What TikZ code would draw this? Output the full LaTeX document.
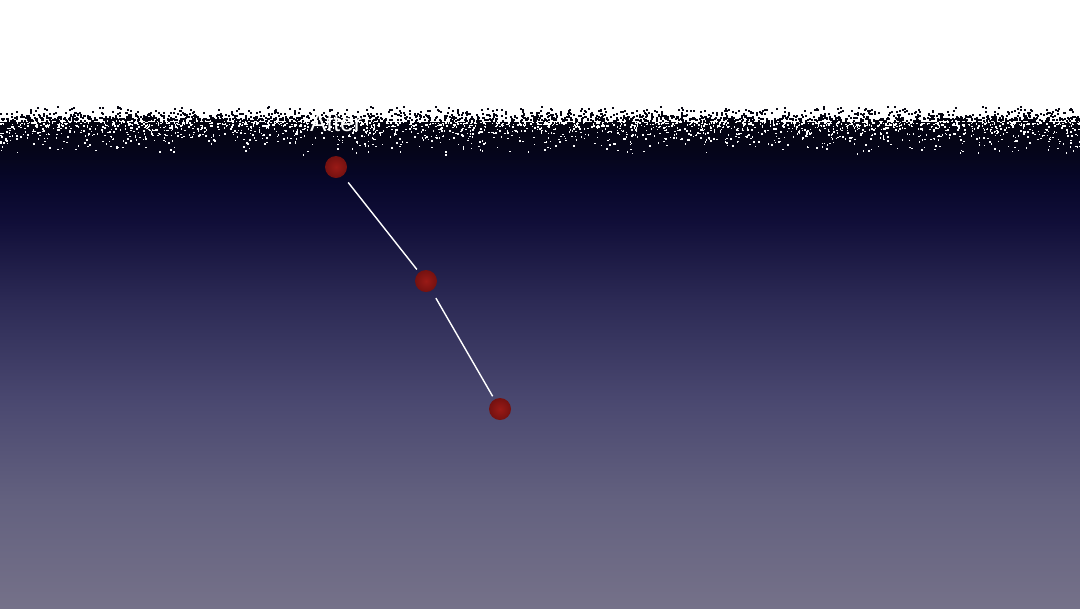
\documentclass[tikz,border=0pt]{standalone}
\usepackage{fontspec}
\setmainfont{Liberation Sans}
\usetikzlibrary{calc}
\definecolor{ink}{HTML}{040410}
\definecolor{skyA}{HTML}{757189}
\definecolor{skyB}{HTML}{63617F}
\definecolor{skyC}{HTML}{4A4870}
\definecolor{skyD}{HTML}{2C2A55}
\definecolor{skyE}{HTML}{100E38}
\definecolor{skyF}{HTML}{07072A}
\definecolor{skyG}{HTML}{05051A}
\definecolor{berry}{HTML}{9A1A16}
\definecolor{berrydark}{HTML}{741110}
\pgfdeclareverticalshading{dusk}{100bp}{color(0bp)=(skyA); color(25bp)=(skyA);
  color(36.07bp)=(skyB); color(46.31bp)=(skyC); color(56.56bp)=(skyD);
  color(64.75bp)=(skyE); color(68.85bp)=(skyF); color(71.93bp)=(skyG);
  color(75bp)=(ink); color(100bp)=(ink)}

\begin{document}
\begin{tikzpicture}[font=\fontsize{7}{8}\selectfont,
  dot/.style={circle, minimum size=0.22cm, inner sep=0pt,
    inner color=berry, outer color=berrydark},
  link/.style={white, line width=0.4pt, shorten <=0.08cm, shorten >=0.03cm}]
  \useasboundingbox (0,0) rectangle (10.8,6.08);
  \fill[white] (0,0) rectangle (10.8,6.08);
  \shade[shading=dusk] (0,0) rectangle (10.8,4.86);

  % ragged dithered edge between the white and the night sky
  \pgfmathsetseed{17}
  \foreach \i in {1,...,1700} {
    \pgfmathsetmacro{\px}{10.8*rnd}
    \pgfmathsetmacro{\py}{4.86+0.15*rnd*rnd}
    \fill[ink] (\px,\py) rectangle ++(0.02,0.02);
  }
  \foreach \i in {1,...,1900} {
    \pgfmathsetmacro{\px}{10.8*rnd}
    \pgfmathsetmacro{\py}{4.85-0.34*rnd*rnd}
    \fill[white] (\px,\py) rectangle ++(0.015,0.015);
  }

  \node[text=white, anchor=base] (title) at (3.36,4.763) {After};

  \node[dot] (p1) at (3.36,4.41) {};
  \node[dot] (p2) at (4.26,3.27) {};
  \node[dot] (p3) at (5.00,1.99) {};
  \draw[link] (p1) -- (p2);
  \draw[link] (p2) -- (p3);
\end{tikzpicture}
\end{document}
